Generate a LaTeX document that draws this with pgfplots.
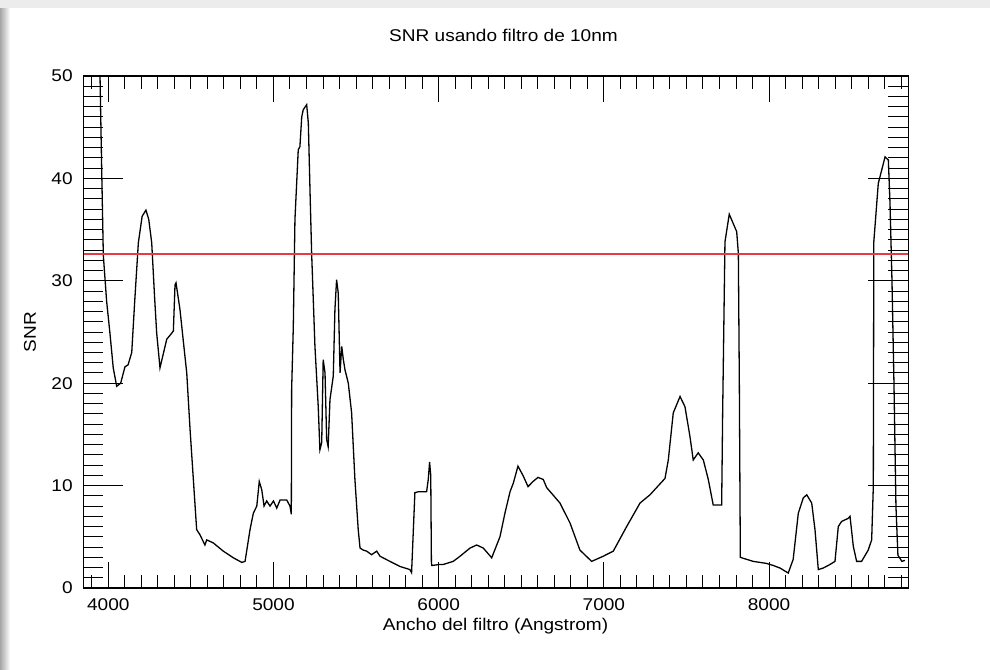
\documentclass[border=0pt]{standalone}
\usepackage{fontspec}
\setmainfont{Liberation Sans}[FakeStretch=1.12]
\usepackage{pgfplots}
\pgfplotsset{compat=1.18}
\begin{document}
\fontsize{8.5pt}{10pt}\selectfont
\begin{tikzpicture}
\useasboundingbox (0,0) rectangle (495pt,334.5pt);
\fill[white] (0,0) rectangle (495pt,334.5pt);
\shade[left color=gray!70, right color=white] (0,0) rectangle (5pt,330.5pt);
\fill[gray!15] (0,330.5pt) rectangle (495pt,334.5pt);
\pgfplotsset{common/.style={scale only axis, width=412.5pt, height=256pt,
  at={(41.5pt,40.5pt)}, anchor=south west,
  xmin=3847, xmax=8841, ymin=0, ymax=50,
  axis line style={line width=0.5pt},
  tick style={line width=0.5pt, black},
  /pgf/number format/assume math mode=true,
  /pgf/number format/set thousands separator={},
  tick label style={font=\fontsize{8.5pt}{10pt}\selectfont}}}
\begin{axis}[common,
  xtick={4000,5000,...,8000}, minor xtick={3900,4000,...,8800},
  ytick=\empty,
  major tick length=13pt, minor tick length=6.5pt,
  xticklabel style={inner sep=0pt, yshift=-5pt},
  title={SNR usando filtro de 10nm},
  title style={at={(axis description cs:0.5,1)}, anchor=base, yshift=11pt, xshift=4pt, inner sep=0pt},
  xlabel={Ancho del filtro (Angstrom)},
  every axis x label/.style={at={(axis description cs:0.5,0)}, anchor=base, yshift=-21pt, inner sep=0pt}]
\addplot[black, line width=0.65pt] coordinates {
(3850,56) (3900,54) (3940,51.5) (3950,50) (3960,41) (3970,32.5) (3990,28) (4010,24.9) (4030,21.5)
(4051,19.7) (4075,20) (4101,21.6) (4120,21.8) (4142,23) (4160,28) (4182,33.7) (4205,36.3)
(4228,36.9) (4245,36) (4263,33.7) (4280,28.5) (4293,24.9) (4313,21.5) (4335,23) (4354,24.3)
(4380,24.8) (4394,25.1) (4404,29.6) (4410,29.8) (4434,27.2) (4455,24) (4475,21) (4495,15.5)
(4515,10.6) (4535,5.7) (4555,5.2) (4585,4.2) (4596,4.7) (4636,4.4) (4696,3.6) (4757,2.95)
(4808,2.5) (4828,2.6) (4858,5.7) (4878,7.3) (4899,8.0) (4914,10.4) (4929,9.6) (4943,8.0)
(4959,8.5) (4979,8.0) (5000,8.5) (5020,7.8) (5040,8.6) (5080,8.6) (5100,8.0) (5108,7.2)
(5110,19.4) (5120,25.5) (5130,36) (5150,42.8) (5160,43.1) (5171,46) (5180,46.7) (5201,47.2)
(5211,45.4) (5221,38.9) (5231,32.7) (5251,23.6) (5271,17.7) (5281,13.5) (5292,14.2) (5301,22.3)
(5312,21) (5322,14.5) (5331,13.8) (5342,18.4) (5362,20.7) (5372,27.2) (5382,30.1) (5392,28.8)
(5403,21) (5413,23.6) (5423,22.3) (5433,21.3) (5453,20) (5473,17.1) (5493,10.6) (5513,5.7)
(5524,3.9) (5544,3.7) (5564,3.6) (5594,3.25) (5625,3.6) (5645,3.1) (5705,2.6) (5766,2.1)
(5826,1.8) (5836,1.5) (5856,9.3) (5876,9.4) (5927,9.4) (5937,10.6) (5945,12.3) (5952,11)
(5956,2.5) (5958,2.2) (6008,2.3) (6028,2.3) (6088,2.6) (6129,3.1) (6190,3.9) (6230,4.2)
(6270,3.9) (6321,2.95) (6371,5.0) (6401,7.3) (6432,9.4) (6452,10.25) (6480,11.9) (6510,11.0)
(6541,9.9) (6571,10.4) (6601,10.8) (6633,10.6) (6654,9.8) (6734,8.3) (6795,6.35) (6855,3.7)
(6926,2.6) (6996,3.1) (7057,3.6) (7138,6.0) (7219,8.3) (7279,9.1) (7370,10.7) (7390,12.5)
(7420,17.1) (7461,18.7) (7491,17.7) (7521,14.8) (7541,12.5) (7571,13.2) (7602,12.5) (7632,10.6)
(7662,8.1) (7713,8.1) (7719,17.1) (7733,33.8) (7759,36.5) (7804,34.8) (7814,32.7) (7820,20)
(7826,3.0) (7844,2.9) (7904,2.6) (7985,2.4) (8025,2.2) (8066,1.95) (8116,1.46) (8146,2.8)
(8177,7.3) (8207,8.8) (8228,9.1) (8258,8.3) (8278,5.7) (8298,1.8) (8328,1.95) (8369,2.3)
(8399,2.6) (8419,6.0) (8439,6.5) (8479,6.8) (8490,7.0) (8510,4.06) (8530,2.6) (8560,2.6)
(8600,3.7) (8621,4.7) (8631,9.9) (8634,33.8) (8661,39.5) (8702,42.1) (8722,41.8) (8732,37.6)
(8744,30) (8756,20) (8768,8) (8780,3.2) (8804,2.6) (8822,2.7)
};
\addplot[color={rgb,255:red,228;green,60;blue,70}, line width=1.2pt] coordinates {(3847,32.6) (8841,32.6)};
\end{axis}
\begin{axis}[common,
  xtick=\empty,
  ytick={0,10,...,50}, minor ytick={0,1,...,50},
  major tick length=20pt, minor tick length=10pt,
  yticklabel style={inner sep=0pt, xshift=-5pt},
  ylabel={SNR},
  every axis y label/.style={at={(axis description cs:-0.0642,0.5)}, rotate=90, anchor=center, inner sep=0pt}]
\end{axis}
\end{tikzpicture}
\end{document}
